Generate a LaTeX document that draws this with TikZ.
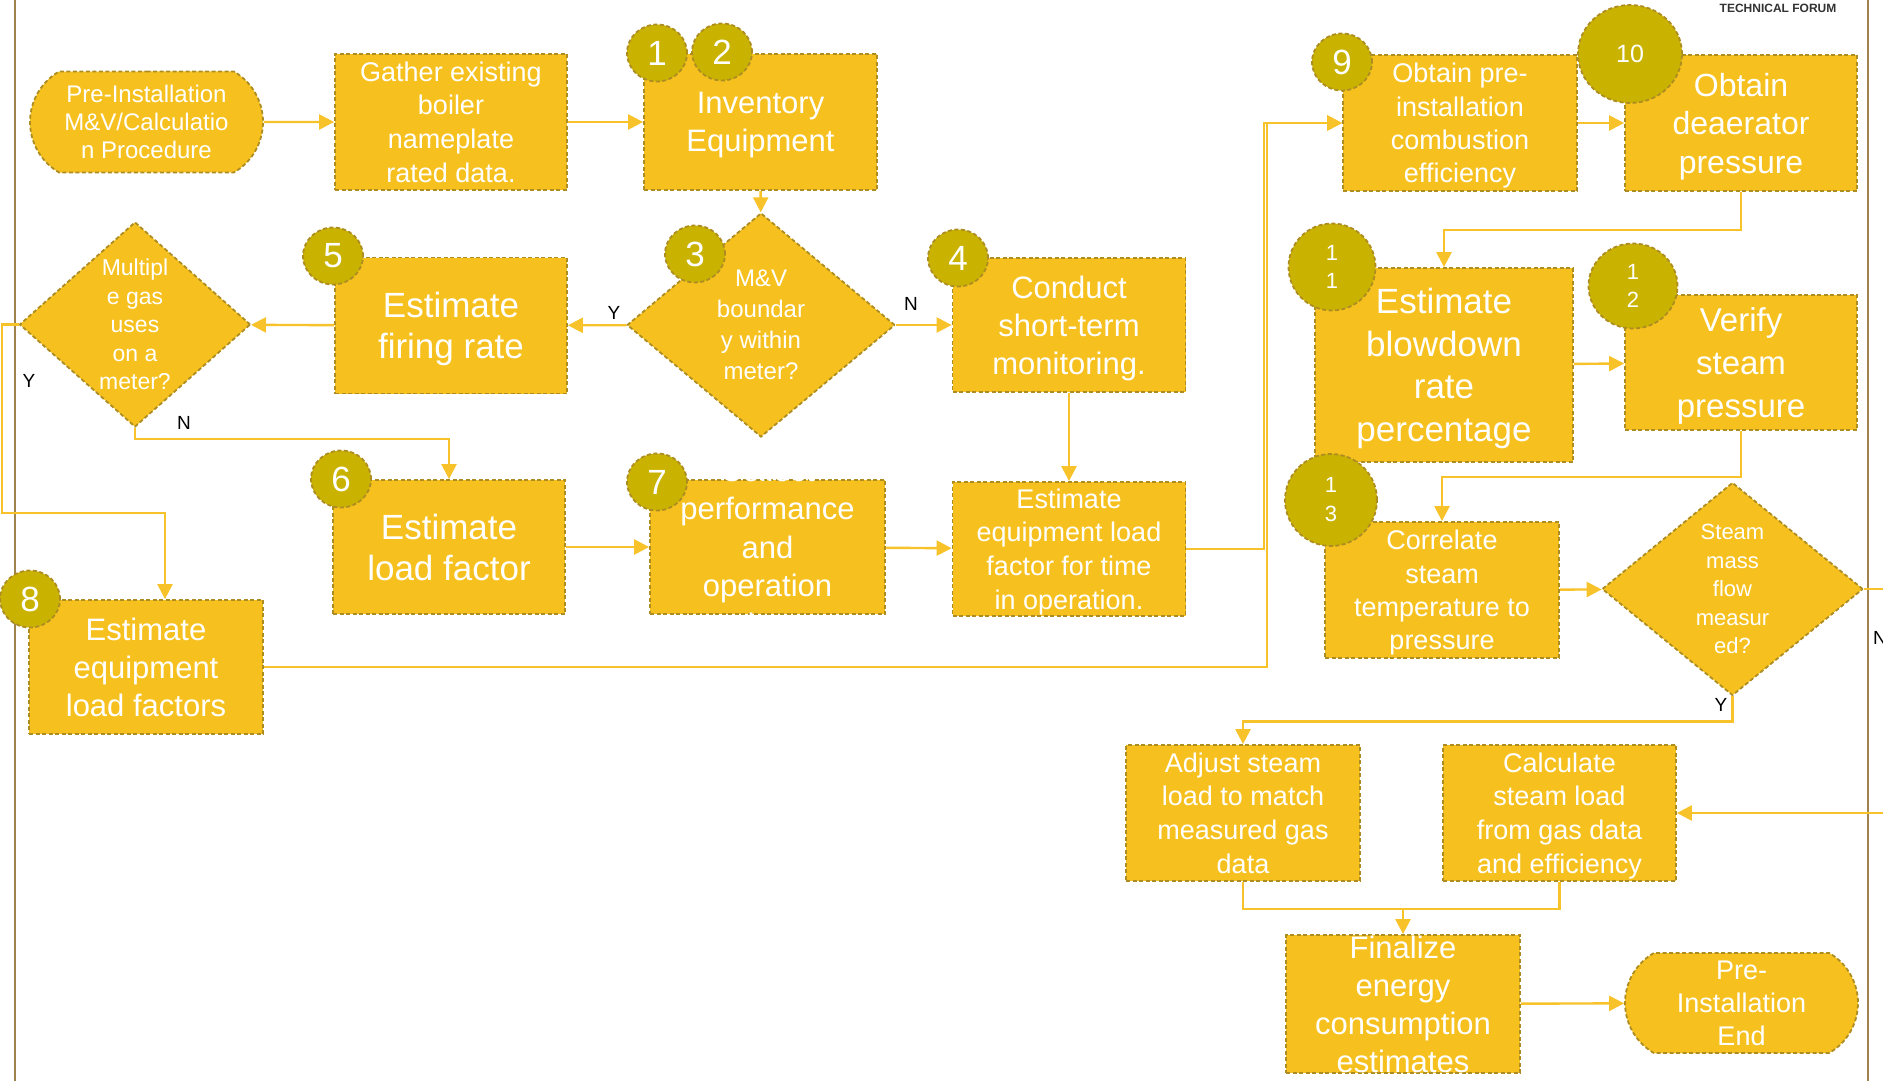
\documentclass[tikz,border=0pt]{standalone}
\usepackage{fontspec}
\setmainfont{Liberation Sans}
\usetikzlibrary{arrows.meta,shapes.geometric,shapes.misc,calc}

\definecolor{boxfill}{HTML}{F6C11F}
\definecolor{boxline}{HTML}{AD8C22}
\definecolor{numfill}{HTML}{C9B300}
\definecolor{flowline}{HTML}{F7C22A}
\definecolor{rulebrown}{HTML}{A0824F}

\newcommand{\fsz}[2]{\fontsize{#1}{#2}\selectfont}

\begin{document}
\begin{tikzpicture}[x=1pt,y=1pt,yscale=-1,
    every node/.style={inner sep=0pt},
    proc/.style={draw=boxline,fill=boxfill,line width=1.8pt,dash pattern=on 4pt off 2.5pt,text=white,align=center,text depth=0pt,minimum width=233pt,minimum height=136pt},
    term/.style={proc,rounded rectangle,rounded rectangle arc length=120,minimum height=101pt},
    decide/.style={proc,diamond},
    num/.style={draw=boxline,fill=numfill,ellipse,line width=1.8pt,dash pattern=on 4pt off 2.5pt,text=white,align=center,minimum width=60pt,minimum height=57pt,font=\fsz{35}{40}},
    flow/.style={draw=flowline,line width=2.4pt,-{Triangle[length=15pt,width=15pt]}},
    link/.style={draw=flowline,line width=2.4pt},
    yn/.style={font=\fsz{19}{22},text=black}]
    \useasboundingbox (0,0) rectangle (1883,1081);
    \fill[white] (0,0) rectangle (1883,1081);

    %Straight Lines (page rules)
    \draw[rulebrown,line width=2.5pt] (15,0) -- (15,1081);
    \draw[rulebrown,line width=2.5pt] (1868,0) -- (1868,1081);
    % Text Node
    \node[font=\bfseries\fsz{12}{14},text=black!80] (forum) at (1778,8) {TECHNICAL FORUM};

    %Shapes: left part
    \node[term,font=\fsz{24}{28}] (start) at (146.5,122) {Pre-Installation\\M\&V/Calculatio\\n Procedure};
    \node[proc,minimum width=232pt,font=\fsz{27}{33.6}] (gather) at (451,122) {Gather existing\\boiler\\nameplate\\rated data.};
    \node[proc,font=\fsz{31}{37.5}] (inventory) at (760.5,122) {Inventory\\Equipment};
    \node[decide,minimum width=268pt,minimum height=224pt,font=\fsz{24}{31}] (mvdec) at (761,325) {M\&V\\boundar\\y within\\meter?};
    \node[proc,minimum height=134pt,font=\fsz{31}{38}] (conduct) at (1069,325) {Conduct\\short-term\\monitoring.};
    \node[proc,minimum width=232pt,font=\fsz{35}{41}] (firing) at (451,325.5) {Estimate\\firing rate};
    \node[decide,minimum width=231pt,minimum height=205pt,font=\fsz{23}{28.5}] (multidec) at (135,324.5) {Multipl\\e gas\\uses\\on a\\meter?};
    \node[proc,minimum width=232pt,minimum height=134pt,font=\fsz{35}{41}] (loadfac) at (449,547) {Estimate\\load factor};
    \node[proc,minimum width=235pt,minimum height=134pt,inner ysep=-35pt,font=\fsz{31}{38.5}] (collect) at (767.5,547) {Collect\\performance\\and\\operation\\data};
    \node[proc,minimum height=134pt,font=\fsz{27}{33.6}] (eqtime) at (1069,549) {Estimate\\equipment load\\factor for time\\in operation.};
    \node[proc,minimum width=234pt,minimum height=134pt,font=\fsz{31}{38}] (eqfactors) at (146,667) {Estimate\\equipment\\load factors};

    %Shapes: right part
    \node[proc,minimum width=234pt,font=\fsz{27}{33.4}] (combeff) at (1460,123) {Obtain pre-\\installation\\combustion\\efficiency};
    \node[proc,minimum width=232pt,font=\fsz{32}{38.5}] (deaer) at (1741,123) {Obtain\\deaerator\\pressure};
    \node[proc,minimum width=258pt,minimum height=194pt,font=\fsz{35}{42.5}] (blowdown) at (1444,365) {Estimate\\blowdown\\rate\\percentage};
    \node[proc,minimum width=232pt,minimum height=135pt,font=\fsz{33}{43}] (verify) at (1741,362.5) {Verify\\steam\\pressure};
    \node[proc,minimum width=234pt,font=\fsz{27}{33.4}] (correlate) at (1442,590) {Correlate\\steam\\temperature to\\pressure};
    \node[decide,minimum width=261pt,minimum height=213pt,font=\fsz{22}{28.5}] (steamdec) at (1732.5,589) {Steam\\mass\\flow\\measur\\ed?};
    \node[proc,minimum width=234pt,font=\fsz{27}{33.6}] (adjust) at (1243,813) {Adjust steam\\load to match\\measured gas\\data};
    \node[proc,minimum width=233pt,font=\fsz{27}{33.6}] (calcload) at (1559.5,813) {Calculate\\steam load\\from gas data\\and efficiency};
    \node[proc,minimum width=234pt,minimum height=138pt,inner ysep=-20pt,font=\fsz{31}{38}] (finalize) at (1403,1004) {Finalize\\energy\\consumption\\estimates};
    \node[term,minimum height=100pt,font=\fsz{27}{33}] (endterm) at (1741.5,1003) {Pre-\\Installation\\End};

    %Connectors
    \draw[flow] (start) -- (gather);
    \draw[flow] (gather) -- (inventory);
    \draw[flow] (inventory) -- (mvdec);
    \draw[flow] (mvdec) -- (firing);
    \draw[flow] (mvdec) -- (conduct);
    \draw[flow] (firing) -- (multidec);
    \draw[flow] (multidec.south) -- ++(0,11) -| (loadfac.north);
    \draw[flow] (multidec.west) -| (2,513) -| ($(eqfactors.north)+(19,0)$);
    \draw[flow] (loadfac) -- (collect);
    \draw[flow] (collect) -- (eqtime);
    \draw[flow] (conduct) -- (eqtime);
    \draw[flow] (eqtime.east) -- (1264,549) |- (combeff.west);
    \draw[flow] (eqfactors.east) -- (1267,667) |- (combeff.west);
    \draw[flow] (combeff) -- (deaer);
    \draw[flow] (deaer.south) -- ++(0,38) -| (blowdown.north);
    \draw[flow] (blowdown) -- (verify);
    \draw[flow] (verify.south) -- ++(0,46) -| (correlate.north);
    \draw[flow] (correlate) -- (steamdec);
    \draw[flow] (steamdec.south) -- ++(0,25) -| (adjust.north);
    \draw[flow] (steamdec.east) -- (1900,589) |- (calcload.east);
    \draw[link] (adjust.south) -- ++(0,27) coordinate (merge) -| (calcload.south);
    \draw[flow] (merge -| finalize.north) -- (finalize.north);
    \draw[flow] (finalize) -- (endterm);

    % Text Node (branch labels)
    \node[yn] (ymv) at (614,313) {Y};
    \node[yn] (nmv) at (911,304) {N};
    \node[yn] (ymulti) at (29,381) {Y};
    \node[yn] (nmulti) at (184,423) {N};
    \node[yn] (ysteam) at (1721,705) {Y};
    \node[yn] (nsteam) at (1880,638) {N};

    %Shapes: step numbers
    \node[num] (num1) at (657,53) {1};
    \node[num] (num2) at (722,52) {2};
    \node[num] (num3) at (695,254) {3};
    \node[num] (num4) at (958,258) {4};
    \node[num] (num5) at (333,256) {5};
    \node[num] (num6) at (341,479) {6};
    \node[num] (num7) at (657,482) {7};
    \node[num] (num8) at (30,599) {8};
    \node[num] (num9) at (1342,62) {9};
    \node[num,minimum width=104pt,minimum height=98pt,font=\fsz{25}{30}] (num10) at (1630,54) {10};
    \node[num,minimum width=87pt,minimum height=87pt,font=\fsz{22}{28}] (num11) at (1332,267) {1\\1};
    \node[num,minimum width=89pt,minimum height=85pt,font=\fsz{22}{28}] (num12) at (1633,286) {1\\2};
    \node[num,minimum width=92pt,minimum height=92pt,font=\fsz{22}{29}] (num13) at (1331,500) {1\\3};
\end{tikzpicture}
\end{document}
